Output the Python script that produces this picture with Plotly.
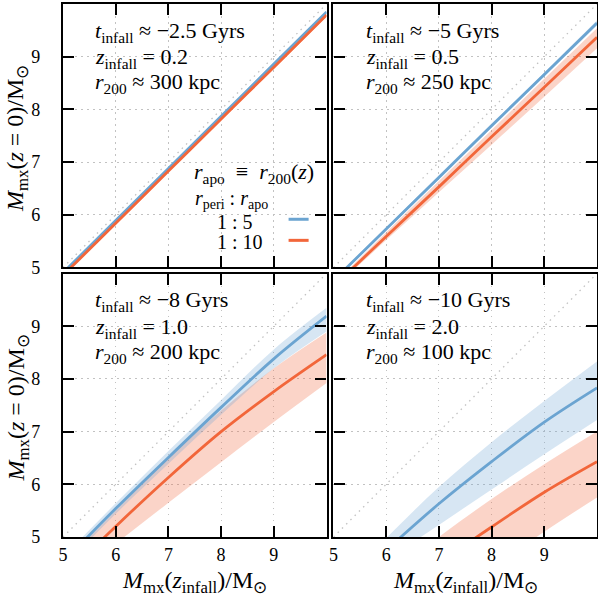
import plotly.graph_objects as go
from plotly.subplots import make_subplots

# ---------------- data ----------------
x_vals = [5, 6, 7, 8, 9, 10]

# panel 1: t_infall ~ -2.5 Gyr
p1_blue = [4.90, 5.89, 6.88, 7.87, 8.86, 9.85]
p1_blue_lo = [4.88, 5.87, 6.86, 7.85, 8.84, 9.83]
p1_blue_hi = [4.92, 5.91, 6.90, 7.89, 8.88, 9.87]
p1_orange = [4.85, 5.84, 6.83, 7.82, 8.80, 9.79]
p1_orange_lo = [4.83, 5.82, 6.81, 7.80, 8.77, 9.76]
p1_orange_hi = [4.87, 5.86, 6.85, 7.84, 8.83, 9.82]

# panel 2: t_infall ~ -5 Gyr
p2_blue = [4.75, 5.73, 6.71, 7.69, 8.66, 9.64]
p2_blue_lo = [4.72, 5.70, 6.67, 7.65, 8.62, 9.59]
p2_blue_hi = [4.78, 5.76, 6.75, 7.73, 8.70, 9.69]
p2_orange = [4.64, 5.59, 6.53, 7.48, 8.42, 9.37]
p2_orange_lo = [4.60, 5.52, 6.43, 7.33, 8.24, 9.16]
p2_orange_hi = [4.68, 5.67, 6.64, 7.61, 8.58, 9.54]

# panel 3: t_infall ~ -8 Gyr
p3_blue = [4.52, 5.54, 6.51, 7.46, 8.38, 9.19]
p3_blue_lo = [4.42, 5.44, 6.39, 7.32, 8.20, 8.90]
p3_blue_hi = [4.62, 5.64, 6.63, 7.60, 8.56, 9.35]
p3_orange = [4.22, 5.20, 6.13, 7.00, 7.76, 8.46]
p3_orange_lo = [4.05, 4.87, 5.65, 6.42, 7.18, 7.92]
p3_orange_hi = [4.50, 5.50, 6.50, 7.40, 8.20, 8.88]

# panel 4: t_infall ~ -10 Gyr
p4_blue = [3.85, 4.75, 5.63, 6.43, 7.18, 7.83]
p4_blue_lo = [3.80, 4.55, 5.23, 5.90, 6.57, 7.22]
p4_blue_hi = [4.00, 4.98, 5.95, 6.80, 7.58, 8.33]
p4_orange = [3.00, 3.75, 4.50, 5.19, 5.85, 6.43]
p4_orange_lo = [2.30, 3.00, 3.70, 4.40, 5.10, 5.75]
p4_orange_hi = [3.40, 4.20, 5.00, 5.72, 6.38, 7.00]

panels = [
    (1, 1, p1_blue, p1_blue_lo, p1_blue_hi, p1_orange, p1_orange_lo, p1_orange_hi),
    (1, 2, p2_blue, p2_blue_lo, p2_blue_hi, p2_orange, p2_orange_lo, p2_orange_hi),
    (2, 1, p3_blue, p3_blue_lo, p3_blue_hi, p3_orange, p3_orange_lo, p3_orange_hi),
    (2, 2, p4_blue, p4_blue_lo, p4_blue_hi, p4_orange, p4_orange_lo, p4_orange_hi),
]

panel_text = [
    ("<i>t</i><sub>infall</sub> ≈ −2.5 Gyrs", "<i>z</i><sub>infall</sub> = 0.2", "<i>r</i><sub>200</sub> ≈ 300 kpc"),
    ("<i>t</i><sub>infall</sub> ≈ −5 Gyrs", "<i>z</i><sub>infall</sub> = 0.5", "<i>r</i><sub>200</sub> ≈ 250 kpc"),
    ("<i>t</i><sub>infall</sub> ≈ −8 Gyrs", "<i>z</i><sub>infall</sub> = 1.0", "<i>r</i><sub>200</sub> ≈ 200 kpc"),
    ("<i>t</i><sub>infall</sub> ≈ −10 Gyrs", "<i>z</i><sub>infall</sub> = 2.0", "<i>r</i><sub>200</sub> ≈ 100 kpc"),
]

tick_vals = [5, 6, 7, 8, 9]
tick_text = ["5", "6", "7", "8", "9"]
diag = [5, 10]

BLUE = "#6ba4d1"
ORANGE = "#f2663a"
BLUE_BAND = "rgba(107,164,209,0.27)"
ORANGE_BAND = "rgba(242,102,58,0.28)"
GRID = "#c2c2c2"
DOTS = "1.5px,4.5px"
FONT = "Liberation Serif"

fig = make_subplots(rows=2, cols=2, horizontal_spacing=0.013, vertical_spacing=0.0113)

for (r, c, b, blo, bhi, o, olo, ohi) in panels:
    for lo, hi, col in ((olo, ohi, ORANGE_BAND), (blo, bhi, BLUE_BAND)):
        fig.add_trace(go.Scatter(x=x_vals, y=lo, mode="lines", line=dict(width=0, shape="spline"),
                                 showlegend=False, hoverinfo="skip"), row=r, col=c)
        fig.add_trace(go.Scatter(x=x_vals, y=hi, mode="lines", line=dict(width=0, shape="spline"),
                                 fill="tonexty", fillcolor=col, showlegend=False, hoverinfo="skip"),
                      row=r, col=c)
    fig.add_trace(go.Scatter(x=diag, y=diag, mode="lines", line=dict(color=GRID, width=1.3, dash=DOTS),
                             showlegend=False, hoverinfo="skip"), row=r, col=c)
    fig.add_trace(go.Scatter(x=x_vals, y=b, mode="lines", line=dict(color=BLUE, width=2.8, shape="spline"),
                             showlegend=False), row=r, col=c)
    fig.add_trace(go.Scatter(x=x_vals, y=o, mode="lines", line=dict(color=ORANGE, width=2.8, shape="spline"),
                             showlegend=False), row=r, col=c)

axis_common = dict(range=[5, 10], tickvals=tick_vals, ticktext=tick_text, ticks="inside", ticklen=11,
                   tickwidth=1.8, tickcolor="black", showline=True, linewidth=2.3, linecolor="black",
                   mirror="allticks", showgrid=True, gridcolor=GRID, griddash=DOTS, gridwidth=1.3,
                   zeroline=False, automargin=False,
                   tickfont=dict(family=FONT, size=18, color="black"))

for r in (1, 2):
    for c in (1, 2):
        fig.update_xaxes(axis_common, showticklabels=(r == 2), ticklabelstandoff=0, row=r, col=c)
        fig.update_yaxes(axis_common, showticklabels=(c == 1), ticklabelstandoff=17, row=r, col=c)

xtitle = "<i>M</i><sub>mx</sub>(<i>z</i><sub>infall</sub>)/M<sub>⊙</sub>"
ytitle = "<i>M</i><sub>mx</sub>(<i>z</i> = 0)/M<sub>⊙</sub>"
TFONT = dict(family=FONT, size=24, color="black")

annotations = []
axis_names = ["", "2", "3", "4"]
for i, lines in enumerate(panel_text):
    an = axis_names[i]
    for j, t in enumerate(lines):
        annotations.append(dict(text=t, xref=f"x{an} domain", yref=f"y{an} domain", x=0.115,
                                y=[0.895, 0.795, 0.70][j], xanchor="left", yanchor="middle",
                                showarrow=False, font=dict(family=FONT, size=22, color="black")))

# axis titles
for an in ("", "3"):
    annotations.append(dict(text=ytitle, xref=f"x{an} domain", yref=f"y{an} domain", x=-0.172, y=0.49,
                            xanchor="center", yanchor="middle", textangle=-90, showarrow=False, font=TFONT))
for an in ("3", "4"):
    annotations.append(dict(text=xtitle, xref=f"x{an} domain", yref=f"y{an} domain", x=0.5, y=-0.172,
                            xanchor="center", yanchor="middle", showarrow=False, font=TFONT))

# legend block in first panel
annotations += [
    dict(text="<i>r</i><sub>apo</sub>&nbsp;&nbsp;≡&nbsp;&nbsp;<i>r</i><sub>200</sub>(<i>z</i>)",
         xref="x domain", yref="y domain",
         x=0.96, y=0.357, xanchor="right", yanchor="middle", showarrow=False,
         font=dict(family=FONT, size=22, color="black")),
    dict(text="<i>r</i><sub>peri</sub>&nbsp;:&nbsp;<i>r</i><sub>apo</sub>", xref="x domain", yref="y domain",
         x=0.639, y=0.258, xanchor="center", yanchor="middle", showarrow=False,
         font=dict(family=FONT, size=20, color="black")),
    dict(text="1&nbsp;:&nbsp;5", xref="x domain", yref="y domain", x=0.578, y=0.174, xanchor="left",
         yanchor="middle", showarrow=False, font=dict(family=FONT, size=20, color="black")),
    dict(text="1&nbsp;:&nbsp;10", xref="x domain", yref="y domain", x=0.578, y=0.097, xanchor="left",
         yanchor="middle", showarrow=False, font=dict(family=FONT, size=20, color="black")),
]
shapes = [
    dict(type="line", xref="x domain", yref="y domain", x0=0.856, x1=0.932, y0=0.183, y1=0.183,
         line=dict(color=BLUE, width=3)),
    dict(type="line", xref="x domain", yref="y domain", x0=0.856, x1=0.932, y0=0.103, y1=0.103,
         line=dict(color=ORANGE, width=3)),
]

fig.update_layout(width=598, height=598, margin=dict(l=63, r=1, t=4, b=61),
                  plot_bgcolor="white", paper_bgcolor="white", showlegend=False,
                  annotations=annotations, shapes=shapes)

fig.write_html("out.html", config={"displayModeBar": False},
               post_script="document.body.style.margin='0px';document.body.style.padding='0px';")
